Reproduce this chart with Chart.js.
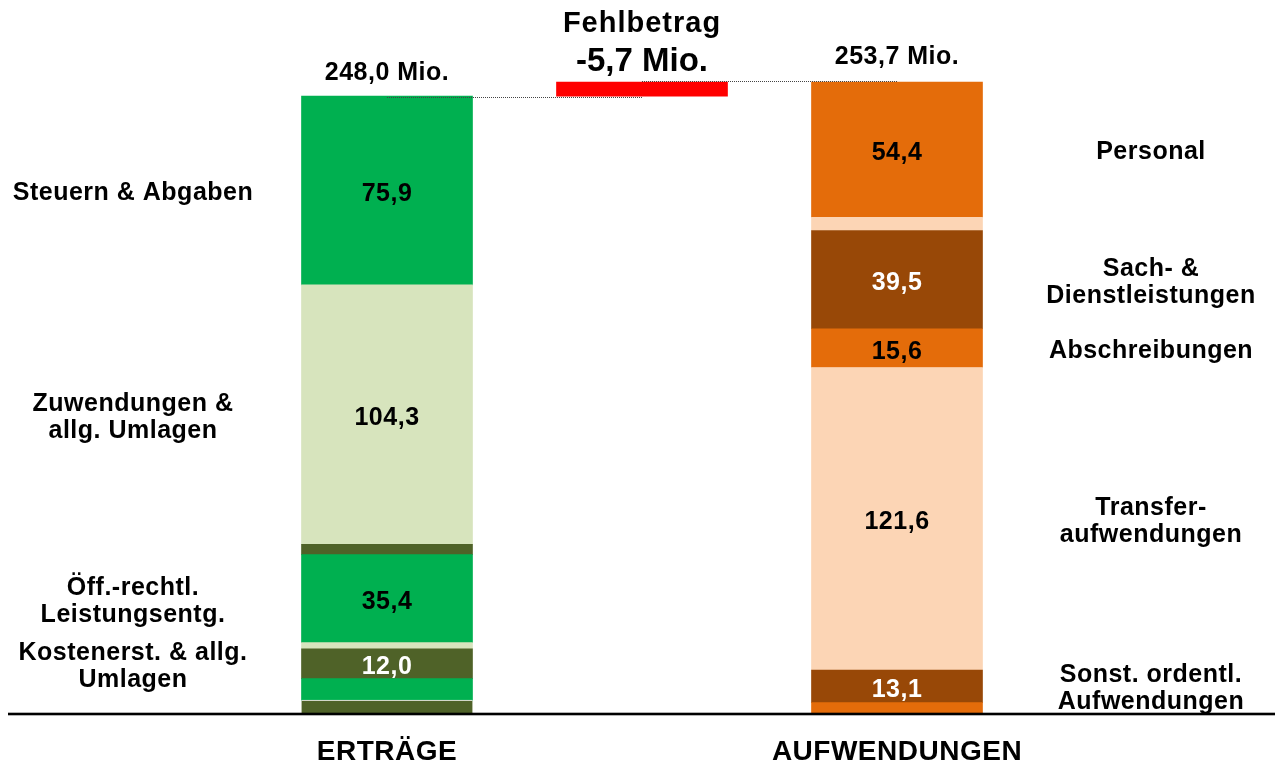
<!DOCTYPE html>
<html lang="de">
<head>
<meta charset="utf-8">
<title>Erträge und Aufwendungen</title>
<script src="https://cdn.jsdelivr.net/npm/chart.js@4.4.1/dist/chart.umd.min.js"></script>
<style>
    body { margin: 0; background: #fff; }
    #wrap { width: 1275px; height: 764px; position: relative; }
</style>
</head>
<body>
<div id="wrap"><canvas id="ergebnisChart"></canvas></div>
<script>
// Kategorien (mittlere Spalte = Fehlbetrag)
const kategorien = ['ERTRÄGE', '', 'AUFWENDUNGEN'];

// Erträge, von unten nach oben (Mio. EUR)
const ertraegeWerte = [5.2, 8.6, 12.0, 2.5, 35.4, 4.1, 104.3, 75.9];
const ertraegeNamen = ['', '', 'Kostenerst. & allg.\nUmlagen', '', 'Öff.-rechtl.\nLeistungsentg.', '', 'Zuwendungen &\nallg. Umlagen', 'Steuern & Abgaben'];
const ertraegeMitWert = [false, false, true, false, true, false, true, true];

// Aufwendungen, von unten nach oben (Mio. EUR)
const aufwendungenWerte = [4.2, 13.1, 121.6, 15.6, 39.5, 5.3, 54.4];
const aufwendungenNamen = ['', 'Sonst. ordentl.\nAufwendungen', 'Transfer-\naufwendungen', 'Abschreibungen', 'Sach- &\nDienstleistungen', '', 'Personal'];
const aufwendungenMitWert = [false, true, true, true, true, false, true];

// Farben
const GRUEN = '#00B050', HELLGRUEN = '#D7E4BD', OLIV = '#4F6228';
const ORANGE = '#E46C0A', BRAUN = '#984807', PFIRSICH = '#FCD5B5', ROT = '#FF0000';
const ertraegeFarben = [OLIV, GRUEN, OLIV, HELLGRUEN, GRUEN, OLIV, HELLGRUEN, GRUEN];
const aufwendungenFarben = [ORANGE, BRAUN, PFIRSICH, ORANGE, BRAUN, PFIRSICH, ORANGE];
const dunkleFarben = [OLIV, BRAUN];

const summeErtraege = ertraegeWerte.reduce((a, b) => a + b, 0);
const summeAufwendungen = aufwendungenWerte.reduce((a, b) => a + b, 0);
const fehlbetrag = summeErtraege - summeAufwendungen;

function fmt(v) {
    return v.toFixed(1).replace('.', ',');
}

const FONT = '"Liberation Sans", Arial, sans-serif';

const datasets = [];
ertraegeWerte.forEach((v, i) => {
    datasets.push({
        data: [v, null, null],
        backgroundColor: ertraegeFarben[i],
        borderWidth: i === 0 ? { top: 1, bottom: 0, left: 0, right: 0 } : 0,
        borderColor: '#ffffff',
        borderSkipped: false,
        stack: 'haupt',
        _seite: 'links', _name: ertraegeNamen[i], _mitWert: ertraegeMitWert[i], _spalte: 0
    });
});
aufwendungenWerte.forEach((v, i) => {
    datasets.push({
        data: [null, null, v],
        backgroundColor: aufwendungenFarben[i],
        borderWidth: 0,
        stack: 'haupt',
        _seite: 'rechts', _name: aufwendungenNamen[i], _mitWert: aufwendungenMitWert[i], _spalte: 2
    });
});
// Fehlbetrag als schwebender Balken
datasets.push({
    data: [null, [summeErtraege, summeAufwendungen], null],
    backgroundColor: ROT,
    borderWidth: 0,
    stack: 'fehl'
});

const beschriftung = {
    id: 'beschriftung',
    afterDatasetsDraw(chart) {
        const ctx = chart.ctx;
        const yS = chart.scales.y;
        const xS = chart.scales.x;
        ctx.save();

        // gestrichelte Verbindungslinien
        ctx.strokeStyle = '#444';
        ctx.lineWidth = 1;
        ctx.setLineDash([1, 1]);
        let y1 = Math.round(yS.getPixelForValue(summeErtraege)) + 1.5;
        ctx.beginPath();
        ctx.moveTo(xS.getPixelForValue(0), y1);
        ctx.lineTo(xS.getPixelForValue(1), y1);
        ctx.stroke();
        let y2 = Math.round(yS.getPixelForValue(summeAufwendungen)) - 0.5;
        ctx.beginPath();
        ctx.moveTo(xS.getPixelForValue(1), y2);
        ctx.lineTo(xS.getPixelForValue(2), y2);
        ctx.stroke();
        ctx.setLineDash([]);

        ctx.textAlign = 'center';
        ctx.textBaseline = 'alphabetic';
        ctx.letterSpacing = '0.5px';
        ctx.font = 'bold 25px ' + FONT;

        chart.data.datasets.forEach((ds, di) => {
            if (ds._spalte === undefined) return;
            const el = chart.getDatasetMeta(di).data[ds._spalte];
            const mitte = (el.y + el.base) / 2;
            const wert = ds.data[ds._spalte];
            if (ds._mitWert) {
                ctx.fillStyle = dunkleFarben.includes(ds.backgroundColor) ? '#ffffff' : '#000000';
                ctx.fillText(fmt(wert), el.x, mitte + 10.5);
            }
            if (ds._name) {
                const zeilen = ds._name.split('\n');
                const lx = ds._seite === 'links' ? 133 : 1151;
                ctx.fillStyle = '#000000';
                zeilen.forEach((z, k) => {
                    ctx.fillText(z, lx, mitte + 9.5 + (k - (zeilen.length - 1) / 2) * 27);
                });
            }
        });

        // Summen oben
        ctx.fillStyle = '#000000';
        ctx.fillText(fmt(summeErtraege) + ' Mio.', xS.getPixelForValue(0), yS.getPixelForValue(summeErtraege) - 16);
        ctx.fillText(fmt(summeAufwendungen) + ' Mio.', xS.getPixelForValue(2), yS.getPixelForValue(summeAufwendungen) - 17.5);
        const fx = xS.getPixelForValue(1);
        const fy = yS.getPixelForValue(summeAufwendungen);
        ctx.letterSpacing = '1px';
        ctx.font = 'bold 29px ' + FONT;
        ctx.fillText('Fehlbetrag', fx, fy - 50);
        ctx.letterSpacing = '0px';
        ctx.font = 'bold 33px ' + FONT;
        ctx.fillText(fmt(fehlbetrag) + ' Mio.', fx, fy - 11);

        // Kategorien unten
        ctx.font = 'bold 28px ' + FONT;
        ctx.letterSpacing = '0.5px';
        kategorien.forEach((k, i) => {
            if (k) ctx.fillText(k, xS.getPixelForValue(i), 760);
        });

        // Grundlinie
        ctx.fillStyle = '#000000';
        ctx.fillRect(8, yS.getPixelForValue(0) - 0.3, 1267, 2.6);
        ctx.restore();
    }
};

new Chart(document.getElementById('ergebnisChart'), {
    type: 'bar',
    data: { labels: kategorien, datasets: datasets },
    options: {
        responsive: true,
        maintainAspectRatio: false,
        animation: false,
        layout: { padding: { left: 259.5, right: 250.5, top: 30, bottom: 51 } },
        datasets: { bar: { grouped: false, barThickness: 171 } },
        plugins: { legend: { display: false }, tooltip: { enabled: false } },
        scales: {
            x: { display: false, stacked: true },
            y: { display: false, stacked: true, min: 0, max: 274.6 }
        }
    },
    plugins: [beschriftung]
});
</script>
</body>
</html>
